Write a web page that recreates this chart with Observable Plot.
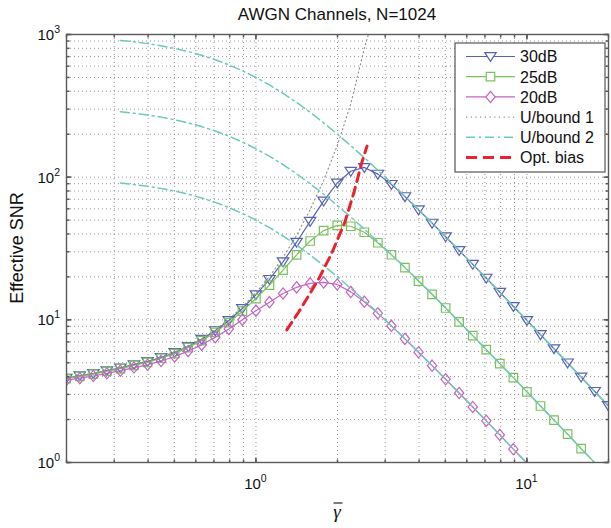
<!DOCTYPE html>
<html><head><meta charset="utf-8">
<script src="https://cdn.jsdelivr.net/npm/d3@7"></script>
<script src="https://cdn.jsdelivr.net/npm/@observablehq/plot@0.6"></script>
<style>body{margin:0;background:#fff}</style>
</head><body><div id="chart"></div>
<script>
// ---- data ----
const gammaBar = [0.1995,0.2239,0.2512,0.2818,0.3162,0.3548,0.3981,0.4467,0.5012,0.5623,0.6310,0.7079,0.7943,0.8913,1.0,1.122,1.259,1.413,1.585,1.778,1.995,2.239,2.512,2.818,3.162,3.548,3.981,4.467,5.012,5.623,6.310,7.079,7.943,8.913,10.0,11.22,12.59,14.13,15.85,17.78,19.95];
const snr30 = [3.90,4.05,4.20,4.40,4.60,4.85,5.10,5.45,5.90,6.50,7.30,8.40,9.90,12.0,15.0,19.2,25.5,35.0,49.0,68.0,91.0,110,117,105,89.0,73.0,59.0,47.6,38.2,30.6,24.5,19.6,15.6,12.4,9.90,7.88,6.27,4.99,3.97,3.15,2.51];
const snr25 = [3.87,4.02,4.16,4.36,4.55,4.80,5.04,5.38,5.80,6.39,7.14,8.18,9.56,11.5,14.1,17.5,22.3,28.5,35.7,42.2,45.9,45.3,41.1,34.7,28.6,23.2,18.7,15.1,12.1,9.69,7.75,6.19,4.93,3.93,3.13,2.49,1.98,1.58,1.25,0.997];
const snr20 = [3.77,3.90,4.04,4.22,4.40,4.63,4.84,5.15,5.53,6.04,6.68,7.55,8.64,10.0,11.6,13.3,15.3,16.9,18.0,18.3,17.7,15.7,13.4,11.1,9.07,7.36,5.93,4.77,3.83,3.07,2.45,1.96,1.56,1.24,0.99];
const bound1 = [3.92,4.07,4.22,4.42,4.62,4.88,5.13,5.49,5.94,6.56,7.37,8.51,10.1,12.3,15.5,20.1,27.3,39.1,59.2,94.9,166,326,801,1680];
const bound2Start = 4; // U/bound 2 starts at gammaBar[4]
const bound2_30 = [909,888,863,834,799,760,715,666,613,557,500,443,387,334,285,240,201,166,137,112,90.9,73.6,59.3,47.7,38.3,30.7,24.5,19.6,15.6,12.4,9.90,7.88,6.27,4.99,3.97,3.15,2.51];
const bound2_25 = [287.5,280.8,272.9,263.6,252.7,240.2,226.2,210.6,193.9,176.2,158.1,140.0,122.3,105.6,90.0,76.0,63.5,52.6,43.3,35.4,28.7,23.3,18.8,15.1,12.1,9.69,7.75,6.19,4.93,3.93,3.13,2.49,1.98,1.58,1.25,0.997];
const bound2_20 = [90.9,88.8,86.3,83.4,79.9,76.0,71.5,66.6,61.3,55.7,50.0,44.3,38.7,33.4,28.5,24.0,20.1,16.6,13.7,11.2,9.09,7.36,5.93,4.77,3.83,3.07,2.45,1.96,1.56,1.24,0.99];
const optBiasX = [1.30,1.44,1.58,1.72,1.90,2.13,2.30,2.46,2.57];
const optBiasY = [8.5,11.4,15.2,20.0,29.0,48.5,78,127,165];
const xGrid = [0.2,0.3,0.4,0.5,0.6,0.7,0.8,0.9,1,2,3,4,5,6,7,8,9,10,20];
const yGrid = [1,2,3,4,5,6,7,8,9,10,20,30,40,50,60,70,80,90,100,200,300,400,500,600,700,800,900,1000];
const xMajor = [1,10], xMajorExp = ["0","1"];
const yMajor = [1,10,100,1000], yMajorExp = ["0","1","2","3"];
const seriesNames = ["30dB","25dB","20dB","U/bound 1","U/bound 2","Opt. bias"];
const titleText = "AWGN Channels, N=1024";
const yLabel = "Effective SNR";
const xLabel = "\u03B3";

// ---- styles ----
const C30 = "#5661b3", C25 = "#79c35b", C20 = "#c265c4", CB1 = "#8c8c8c", CB2 = "#6cc9bb", COPT = "#e8232d";
const FONT = "'Liberation Sans', Arial, sans-serif";

const triDown = {draw(ctx, size){ const r = Math.sqrt(size/Math.PI); ctx.moveTo(-1.1*r,-0.75*r); ctx.lineTo(1.1*r,-0.75*r); ctx.lineTo(0,0.95*r); ctx.closePath(); }};
const sq = {draw(ctx, size){ const r = Math.sqrt(size/Math.PI)*0.85; ctx.moveTo(-r,-r); ctx.lineTo(r,-r); ctx.lineTo(r,r); ctx.lineTo(-r,r); ctx.closePath(); }};
const diam = {draw(ctx, size){ const r = Math.sqrt(size/Math.PI); ctx.moveTo(0,-1.15*r); ctx.lineTo(0.95*r,0); ctx.lineTo(0,1.15*r); ctx.lineTo(-0.95*r,0); ctx.closePath(); }};
const tickSym = (dx,dy) => ({draw(ctx,size){ const l = Math.sqrt(size/Math.PI); ctx.moveTo(0,0); ctx.lineTo(dx*l,dy*l); }});

const rows = (xs, ys) => ys.map((y,i)=>({x: xs[i], y}));
const d30 = rows(gammaBar, snr30), d25 = rows(gammaBar, snr25), d20 = rows(gammaBar, snr20);
const db1 = rows(gammaBar, bound1);
const xb2 = gammaBar.slice(bound2Start);
const db2 = [rows(xb2,bound2_30), rows(xb2,bound2_25), rows(xb2,bound2_20)];
const dopt = rows(optBiasX, optBiasY);
const vis = d => d.y >= 1;

const curve = (data, color, sym, r) => [
  Plot.line(data, {x:"x", y:"y", stroke: color, strokeWidth: 1.2, clip: true}),
  Plot.dot(data.filter(vis), {x:"x", y:"y", symbol: sym, r, stroke: color, strokeWidth: 1.2, fill: "none", clip: true})
];

const plot = Plot.plot({
  width: 611, height: 528,
  marginLeft: 66, marginRight: 3, marginTop: 34, marginBottom: 66,
  x: {type: "log", domain: [0.2, 20], axis: null},
  y: {type: "log", domain: [1, 1000], axis: null},
  style: {fontFamily: FONT, background: "#fff", overflow: "visible"},
  marks: [
    Plot.ruleX(xGrid, {stroke: "#969696", strokeWidth: 1, strokeDasharray: "1,3"}),
    Plot.ruleY(yGrid, {stroke: "#969696", strokeWidth: 1, strokeDasharray: "1,3"}),
    ...curve(d30, C30, triDown, 5.2),
    ...curve(d25, C25, sq, 5),
    ...curve(d20, C20, diam, 4.9),
    Plot.line(db1, {x:"x", y:"y", stroke: CB1, strokeWidth: 1.1, strokeDasharray: "1.2,3", clip: true}),
    ...db2.map(d => Plot.line(d, {x:"x", y:"y", stroke: CB2, strokeWidth: 1.5, strokeDasharray: "9,4,2,4", clip: true})),
    Plot.line(dopt, {x:"x", y:"y", stroke: COPT, strokeWidth: 3, strokeDasharray: "9,6", clip: true}),
    // inward ticks on the four sides
    Plot.dot(xGrid, {x: d=>d, y: () => 1, symbol: tickSym(0,-1), r: 3, stroke: "#555", fill: "none"}),
    Plot.dot(xGrid, {x: d=>d, y: () => 1000, symbol: tickSym(0,1), r: 3, stroke: "#555", fill: "none"}),
    Plot.dot(yGrid, {x: () => 0.2, y: d=>d, symbol: tickSym(1,0), r: 3, stroke: "#555", fill: "none"}),
    Plot.dot(yGrid, {x: () => 20, y: d=>d, symbol: tickSym(-1,0), r: 3, stroke: "#555", fill: "none"}),
    Plot.dot(xMajor, {x: d=>d, y: () => 1, symbol: tickSym(0,-1), r: 5, stroke: "#555", fill: "none"}),
    Plot.dot(xMajor, {x: d=>d, y: () => 1000, symbol: tickSym(0,1), r: 5, stroke: "#555", fill: "none"}),
    Plot.dot(yMajor, {x: () => 0.2, y: d=>d, symbol: tickSym(1,0), r: 5, stroke: "#555", fill: "none"}),
    Plot.dot(yMajor, {x: () => 20, y: d=>d, symbol: tickSym(-1,0), r: 5, stroke: "#555", fill: "none"}),
    Plot.frame({stroke: "#5a5a5a", strokeWidth: 1.4})
  ]
});
document.getElementById("chart").appendChild(plot);

// ---- text & legend ----
const svg = d3.select(plot);
const sx = plot.scale("x"), sy = plot.scale("y");
const cx = (sx.apply(0.2) + sx.apply(20)) / 2;

svg.append("text").attr("x", cx).attr("y", 20).attr("text-anchor","middle")
  .attr("font-family", FONT).attr("font-size", 17).attr("fill","#111").text(titleText);
svg.append("text").attr("transform", `translate(23,${(sy.apply(1)+sy.apply(1000))/2}) rotate(-90)`)
  .attr("text-anchor","middle").attr("font-family", FONT).attr("font-size", 18).attr("fill","#111").text(yLabel);
svg.append("text").attr("x", cx).attr("y", 518).attr("text-anchor","middle")
  .attr("font-family", "'Liberation Serif', serif").attr("font-style","italic").attr("font-size", 19).attr("fill","#111").text(xLabel);
svg.append("line").attr("x1", cx - 3.5).attr("x2", cx + 5.5).attr("y1", 503).attr("y2", 503)
  .attr("stroke", "#111").attr("stroke-width", 1.1);

xMajor.forEach((v,i) => {
  const t = svg.append("text").attr("x", sx.apply(v)).attr("y", 489).attr("text-anchor","middle")
    .attr("font-family", FONT).attr("font-size", 15).attr("fill","#111");
  t.append("tspan").text("10");
  t.append("tspan").attr("dy", -7).attr("font-size", 10.5).text(xMajorExp[i]);
});
yMajor.forEach((v,i) => {
  const t = svg.append("text").attr("x", 60).attr("y", sy.apply(v) + 6).attr("text-anchor","end")
    .attr("font-family", FONT).attr("font-size", 15).attr("fill","#111");
  t.append("tspan").text("10");
  t.append("tspan").attr("dy", -7).attr("font-size", 10.5).text(yMajorExp[i]);
});

// legend
const lg = svg.append("g");
const L = {x0: 455, y0: 43, w: 150, h: 129};
lg.append("rect").attr("x", L.x0).attr("y", L.y0).attr("width", L.w).attr("height", L.h)
  .attr("fill", "#fff").attr("stroke", "#555").attr("stroke-width", 1.2);
const legendStyles = [
  {c: C30, sym: triDown, r: 5.2, dash: null, w: 1.2},
  {c: C25, sym: sq, r: 5, dash: null, w: 1.2},
  {c: C20, sym: diam, r: 4.9, dash: null, w: 1.2},
  {c: CB1, sym: null, dash: "1.2,3.5", w: 1.2},
  {c: CB2, sym: null, dash: "9,4,2,4", w: 1.5},
  {c: COPT, sym: null, dash: "11,6", w: 3}
];
seriesNames.forEach((name, i) => {
  const y = 56.5 + i * 20.2, s = legendStyles[i];
  lg.append("line").attr("x1", 466).attr("x2", 515).attr("y1", y).attr("y2", y)
    .attr("stroke", s.c).attr("stroke-width", s.w).attr("stroke-dasharray", s.dash);
  if (s.sym) lg.append("path").attr("transform", `translate(490.5,${y})`)
    .attr("d", d3.symbol(s.sym, Math.PI*s.r*s.r)()).attr("fill","#fff").attr("stroke", s.c).attr("stroke-width", 1.2);
  lg.append("text").attr("x", 520).attr("y", y + 5.8).attr("text-anchor", "start")
    .attr("font-family", FONT).attr("font-size", 16).attr("fill", "#111").text(name);
});
</script>
</body></html>
